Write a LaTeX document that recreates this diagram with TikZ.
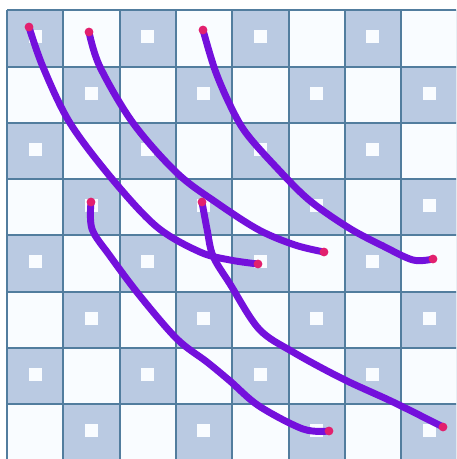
\documentclass[tikz,border=0pt]{standalone}
\usetikzlibrary{calc}
\definecolor{cellblue}{HTML}{BACAE2}
\definecolor{cellwhite}{HTML}{F9FCFF}
\definecolor{gridline}{HTML}{527D9E}
\definecolor{strokepurple}{HTML}{7410DC}
\definecolor{dotpink}{HTML}{E2206E}
\tikzset{
  stroke/.style={draw=strokepurple, line width=5.2pt, line cap=round, line join=round},
  enddot/.style={circle, fill=dotpink, inner sep=0pt, minimum size=6.6pt},
  gridstyle/.style={draw=gridline, line width=1.5pt},
  marker/.style={fill=cellwhite}
}
\begin{document}
\begin{tikzpicture}[x=0.75pt, y=-0.75pt]
\useasboundingbox (0,0) rectangle (456,459);
\begin{scope}
\clip (0,0) rectangle (456,459);
\fill[white] (0,0) rectangle (456,459);
% cells
\foreach \r in {0,...,7} {
  \foreach \c in {0,...,7} {
    \pgfmathtruncatemacro{\parity}{mod(\r+\c,2)}
    \pgfmathsetmacro{\xa}{7+56.3*\c}
    \pgfmathsetmacro{\ya}{10.5+56.2*\r}
    \ifnum\parity=0
      \fill[cellblue] (\xa,\ya) rectangle ++(56.3,56.2);
      \fill[marker] ($(\xa,\ya)+(21.5,20)$) rectangle ++(13,13);
    \else
      \fill[cellwhite] (\xa,\ya) rectangle ++(56.3,56.2);
    \fi
  }
}
% grid lines
\foreach \i in {0,...,8} {
  \pgfmathsetmacro{\xx}{7+56.3*\i}
  \pgfmathsetmacro{\yy}{10.5+56.2*\i}
  \draw[gridstyle] (\xx,10.5) -- (\xx,470);
  \draw[gridstyle] (7,\yy) -- (470,\yy);
}
\end{scope}
% curves
\coordinate (s1) at (29,27);  \coordinate (e1) at (258,264);
\coordinate (s2) at (89,32);  \coordinate (e2) at (324,252);
\coordinate (s3) at (203,30); \coordinate (e3) at (433,259);
\coordinate (s4) at (91,202); \coordinate (e4) at (329,431);
\coordinate (s5) at (202,202);\coordinate (e5) at (443,427);
\draw[stroke] plot[smooth, tension=0.55] coordinates {(29,27) (43,67) (70,123) (113,180) (157,227) (200,252) (230,260) (258,264)};
\draw[stroke] plot[smooth, tension=0.55] coordinates {(89,32) (100,67) (133,123) (177,173) (217,203) (259,230) (295,245) (324,252)};
\draw[stroke] plot[smooth, tension=0.55] coordinates {(203,30) (215,70) (230,105) (246,133) (276,167) (309,200) (349,228) (383,246) (413,260) (433,259)};
\draw[stroke] plot[smooth, tension=0.55] coordinates {(91,202) (92,229) (110,256) (140,296) (177,339) (207,362) (230,381) (259,406) (303,429) (329,431)};
\draw[stroke] plot[smooth, tension=0.55] coordinates {(202,202) (207,229) (213,256) (230,284) (259,329) (293,352) (343,379) (393,402) (443,427)};
\foreach \p in {s1,e1,s2,e2,s3,e3,s4,e4,s5,e5} {
  \node[enddot] (d\p) at (\p) {};
}
\end{tikzpicture}
\end{document}
